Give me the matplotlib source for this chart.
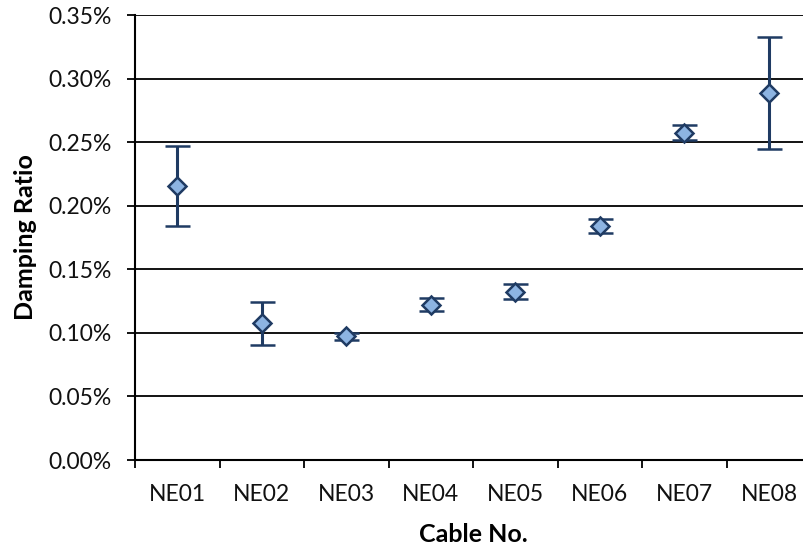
import matplotlib
matplotlib.use("Agg")
import matplotlib.pyplot as plt
import numpy as np
from matplotlib.ticker import FuncFormatter, FixedLocator

plt.rcParams['font.family'] = ['Lato', 'DejaVu Sans']

# data (damping ratio in %)
cables = ["NE01", "NE02", "NE03", "NE04", "NE05", "NE06", "NE07", "NE08"]
damping = [0.2155, 0.1075, 0.0972, 0.1220, 0.1325, 0.1840, 0.2575, 0.2888]
err = [0.0318, 0.0168, 0.0030, 0.0051, 0.0058, 0.0052, 0.0058, 0.0442]

navy = "#1F3B63"
light = "#8DB4E2"

fig = plt.figure(figsize=(8.04, 5.5), dpi=100)
ax = fig.add_axes([0.168, 0.1636, 0.841, 0.809])

x = np.arange(len(cables))
ax.errorbar(x, damping, yerr=err, fmt="D", color=navy, ecolor=navy,
            elinewidth=2.2, capsize=9, capthick=3.8,
            markersize=9, markerfacecolor=light, markeredgecolor=navy,
            markeredgewidth=1.8, zorder=3)

ax.set_ylim(0, 0.35)
ax.set_xlim(-0.5, len(cables) - 0.5)
ax.set_yticks(np.arange(0, 0.351, 0.05))
ax.yaxis.set_major_formatter(FuncFormatter(lambda v, p: "%.2f%%" % v))
ax.yaxis.grid(True, color="black", linewidth=1.3)
ax.set_axisbelow(True)

# category boundaries get the tick marks, labels sit in between
ax.xaxis.set_major_locator(FixedLocator(np.arange(-0.5, len(cables), 1.0)))
ax.xaxis.set_minor_locator(FixedLocator(x))
ax.xaxis.set_major_formatter(FuncFormatter(lambda v, p: ""))
ax.set_xticklabels(cables, minor=True)
ax.tick_params(axis="x", which="major", length=6, width=1.3, direction="out")
ax.tick_params(axis="x", which="minor", length=0, pad=17, labelsize=16.5, labelcolor="#111111")
ax.tick_params(axis="y", length=6, width=1.3, direction="out", labelsize=16.5, pad=11,
               labelcolor="#111111")

for s in ["top", "right"]:
    ax.spines[s].set_visible(False)
ax.spines["left"].set_linewidth(1.5)
ax.spines["bottom"].set_linewidth(1.5)

ax.set_xlabel("Cable No.", fontsize=18, fontweight="bold")
ax.set_ylabel("Damping Ratio", fontsize=18, fontweight="bold")
ax.xaxis.set_label_coords(0.5, -0.142)
ax.yaxis.set_label_coords(-0.145, 0.5)

fig.savefig("out.png", dpi=100)
